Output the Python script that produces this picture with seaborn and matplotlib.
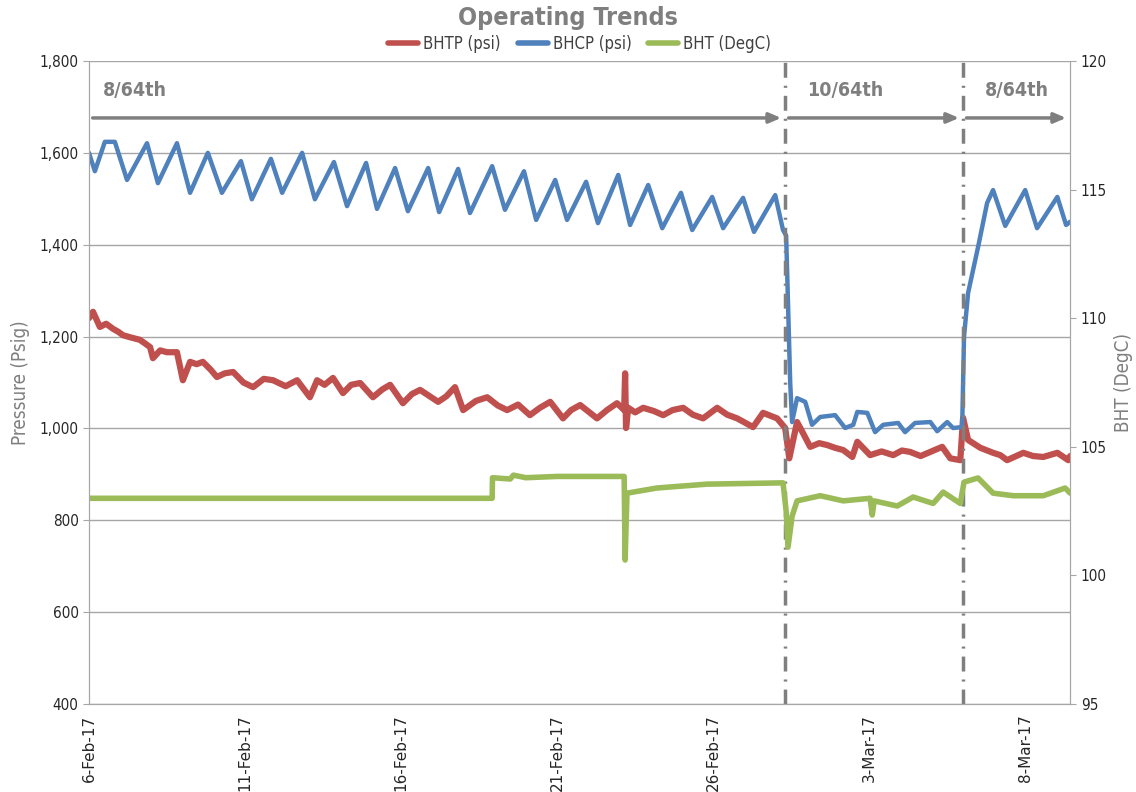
import pandas as pd
import seaborn as sns
import matplotlib.pyplot as plt
import matplotlib.dates as mdates
from matplotlib.ticker import FuncFormatter

start = pd.Timestamp('2017-02-06')

# day offsets from 6-Feb-17 and values
bhcp_days = [0.00, 0.19, 0.51, 0.83, 1.22, 1.86, 2.21, 2.82, 3.24, 3.81, 4.26, 4.87, 5.22, 5.83,
             6.19, 6.83, 7.24, 7.85, 8.27, 8.88, 9.23, 9.81, 10.22, 10.87, 11.22, 11.83, 12.21,
             12.92, 13.33, 13.94, 14.33, 14.94, 15.32, 15.93, 16.31, 16.96, 17.34, 17.92, 18.37,
             18.97, 19.33, 19.97, 20.32, 20.96, 21.31, 21.99, 22.24, 22.34, 22.47, 22.53, 22.69,
             22.95, 23.17, 23.43, 23.91, 24.23, 24.49, 24.62, 24.94, 25.19, 25.45, 25.93, 26.15,
             26.47, 26.96, 27.18, 27.50, 27.69, 27.98, 28.04, 28.17, 28.49, 28.78, 28.97, 29.36,
             30.00, 30.38, 31.03, 31.31, 31.44]
bhcp = [1600, 1560, 1624, 1624, 1541, 1621, 1534, 1621, 1513, 1600, 1513, 1582, 1499, 1587,
        1513, 1600, 1499, 1580, 1484, 1578, 1478, 1567, 1473, 1567, 1471, 1565, 1469,
        1571, 1476, 1560, 1454, 1541, 1454, 1537, 1447, 1552, 1443, 1530, 1436,
        1513, 1432, 1504, 1436, 1502, 1428, 1508, 1432, 1420, 1100, 1014, 1066,
        1058, 1008, 1025, 1029, 1001, 1008, 1036, 1034, 992, 1008, 1012, 992,
        1012, 1014, 994, 1014, 1001, 1003, 1200, 1295, 1395, 1491, 1519, 1441,
        1519, 1436, 1504, 1443, 1450]

bhtp_days = [0.00, 0.13, 0.35, 0.55, 0.77, 0.95, 1.09, 1.35, 1.63, 1.80, 1.96, 2.05, 2.28, 2.50,
             2.82, 3.01, 3.24, 3.45, 3.65, 3.90, 4.10, 4.35, 4.62, 4.95, 5.26, 5.60, 5.90, 6.30,
             6.67, 7.08, 7.31, 7.55, 7.82, 8.14, 8.40, 8.69, 9.10, 9.40, 9.65, 10.06, 10.35,
             10.61, 11.19, 11.45, 11.73, 11.99, 12.40, 12.76, 13.10, 13.40, 13.75, 14.13, 14.45,
             14.78, 15.19, 15.45, 15.74, 16.28, 16.60, 16.92, 17.15, 17.18, 17.21, 17.28, 17.50,
             17.76, 18.10, 18.40, 18.70, 19.04, 19.35, 19.68, 20.13, 20.45, 20.77, 21.28, 21.60,
             22.05, 22.31, 22.44, 22.69, 22.88, 23.11, 23.40, 23.65, 23.90, 24.17, 24.46, 24.62,
             25.03, 25.40, 25.77, 26.05, 26.31, 26.65, 26.96, 27.34, 27.60, 27.92, 28.01, 28.17,
             28.56, 28.97, 29.20, 29.42, 29.94, 30.25, 30.58, 31.03, 31.38, 31.44]
bhtp = [1240, 1254, 1221, 1228, 1217, 1210, 1203, 1198, 1193, 1185, 1177, 1153, 1170, 1166,
        1166, 1105, 1145, 1140, 1145, 1128, 1112, 1120, 1123, 1100, 1090, 1108, 1105, 1092,
        1105, 1068, 1105, 1095, 1110, 1077, 1095, 1099, 1068, 1085, 1095, 1055, 1075,
        1084, 1058, 1070, 1090, 1040, 1060, 1068, 1050, 1040, 1052, 1029, 1045,
        1058, 1022, 1040, 1051, 1022, 1040, 1055, 1040, 1120, 1001, 1045, 1035,
        1045, 1038, 1029, 1040, 1045, 1030, 1022, 1045, 1030, 1022, 1003, 1034,
        1022, 1001, 935, 1014, 990, 960, 968, 964, 958, 953, 938, 971,
        942, 950, 942, 952, 949, 940, 949, 960, 935, 931, 1023, 975,
        958, 947, 942, 931, 947, 940, 938, 947, 931, 940]

bht_days = [0.00, 12.92, 12.93, 13.50, 13.60, 14.00, 15.00, 16.00, 17.00, 17.15, 17.18, 17.24,
            18.20, 19.80, 22.24, 22.34, 22.40, 22.53, 22.69, 23.43, 24.17, 25.03, 25.10, 25.16,
            25.90, 26.41, 27.05, 27.37, 27.92, 28.04, 28.49, 28.97, 29.62, 30.58, 31.28, 31.44]
bht = [103.0, 103.0, 103.8, 103.75, 103.9, 103.8, 103.85, 103.85, 103.85, 103.85, 100.6, 103.2,
       103.4, 103.55, 103.6, 102.5, 101.1, 102.3, 102.9, 103.1, 102.9, 103.0, 102.35, 102.9,
       102.7, 103.05, 102.8, 103.24, 102.8, 103.63, 103.79, 103.2, 103.1, 103.1, 103.4, 103.2]

choke_changes = [22.3, 28.0]
choke_labels = ['8/64th', '10/64th', '8/64th']
x_end = 31.45


def to_dates(days):
    return start + pd.to_timedelta(days, unit='D')


df_tp = pd.DataFrame({'Date': to_dates(bhtp_days), 'Value': bhtp})
df_cp = pd.DataFrame({'Date': to_dates(bhcp_days), 'Value': bhcp})
df_t = pd.DataFrame({'Date': to_dates(bht_days), 'Value': bht})

sns.set_style('white')
narrow = dict(family='DejaVu Sans', stretch='condensed')
grey = '#7F7F7F'
red, blue, green = '#C0504D', '#4F81BD', '#9BBB59'

fig = plt.figure(figsize=(11.36, 7.92), dpi=100)
ax = fig.add_axes([0.0783, 0.111, 0.864, 0.812])
ax2 = ax.twinx()

sns.lineplot(data=df_tp, x='Date', y='Value', ax=ax, color=red, linewidth=4.5, label='BHTP (psi)')
sns.lineplot(data=df_cp, x='Date', y='Value', ax=ax, color=blue, linewidth=3.2, label='BHCP (psi)')
sns.lineplot(data=df_t, x='Date', y='Value', ax=ax2, color=green, linewidth=4, label='BHT (DegC)')
for line in ax.get_lines() + ax2.get_lines():
    line.set_solid_joinstyle('round')

ax.set_ylim(400, 1800)
ax.set_yticks(range(400, 1801, 200))
ax.yaxis.set_major_formatter(FuncFormatter(lambda v, p: f'{int(v):,}'))
ax2.set_ylim(95, 120)
ax2.set_yticks(range(95, 121, 5))
ax.set_xlim(start, to_dates(x_end))

ticks = [start + pd.Timedelta(days=d) for d in range(0, 31, 5)]
ax.set_xticks(ticks)
ax.xaxis.set_major_formatter(mdates.DateFormatter('%-d-%b-%y'))
plt.setp(ax.get_xticklabels(), rotation=90, fontsize=11)
for lab in ax.get_yticklabels() + ax2.get_yticklabels():
    lab.set_fontstretch('condensed')
    lab.set_fontsize(11)

ax.grid(axis='y', color='#A6A6A6', linewidth=1)
ax.grid(axis='x', visible=False)
ax2.grid(False)
ax.set_axisbelow(True)
for a in (ax, ax2):
    for s in a.spines.values():
        s.set_color('#A6A6A6')
    a.spines['top'].set_visible(False)
    a.tick_params(axis='both', length=4, color='#A6A6A6', direction='out')

ax.set_xlabel('')
ax.set_ylabel('Pressure (Psig)', color=grey, fontsize=13.5, labelpad=7, **narrow)
ax2.set_ylabel('BHT (DegC)', color=grey, fontsize=13.5, labelpad=5, **narrow)

# choke change markers
for d in choke_changes:
    ax.axvline(to_dates(d), color=grey, linestyle=(0, (4.3, 2.3, 0.6, 2.3)), linewidth=2.5, zorder=5)

bounds = [0] + choke_changes + [x_end - 0.02]
for i, lab in enumerate(choke_labels):
    x0, x1 = to_dates(bounds[i] + 0.03), to_dates(bounds[i + 1] - 0.03)
    ax.annotate('', xy=(x1, 1676), xytext=(x0, 1676),
                arrowprops=dict(arrowstyle='-|>,head_length=0.7,head_width=0.3', color=grey, lw=2.5))
    ax.text(to_dates(bounds[i] + 0.45 + (0.25 if i else 0)), 1735, lab, color=grey,
            fontsize=14, fontweight='bold', ha='left', va='center', **narrow)

# legend on top, title above
h1, l1 = ax.get_legend_handles_labels()
h2, l2 = ax2.get_legend_handles_labels()
if ax2.get_legend():
    ax2.get_legend().remove()
leg = ax.legend(h1 + h2, l1 + l2, loc='lower center', bbox_to_anchor=(0.5, 1.0), ncol=3,
                frameon=False, handlelength=1.8, columnspacing=1.0, handletextpad=0.3,
                borderaxespad=0.1, prop={'size': 12, **narrow})
for t in leg.get_texts():
    t.set_color('#404040')
for line in leg.get_lines():
    line.set_linewidth(4)

fig.text(0.5, 0.977, 'Operating Trends', ha='center', va='center', color=grey,
         fontsize=18, fontweight='bold', **narrow)

fig.savefig('out.png', dpi=100)
